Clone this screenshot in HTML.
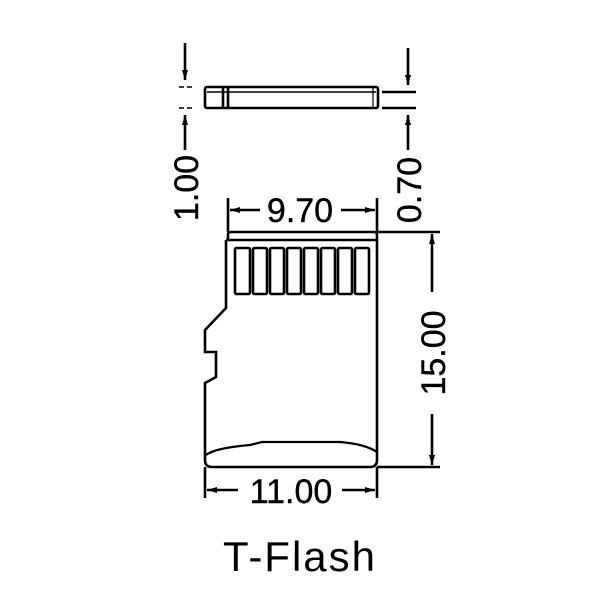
<!DOCTYPE html>
<html><head><style>
body{margin:0;background:#fff}
svg text{font-family:"Liberation Sans",sans-serif;fill:#000}
</style></head><body>
<svg width="600" height="600" viewBox="0 0 600 600" xmlns="http://www.w3.org/2000/svg">
<defs>
<marker id="a" viewBox="0 0 10 6" refX="10" refY="3" markerWidth="11" markerHeight="6" orient="auto-start-reverse" markerUnits="userSpaceOnUse"><path d="M0,0 L10,3 L0,6 z" fill="#000"/></marker>
</defs>
<g stroke="#000" fill="none" stroke-width="2.6">
<rect x="205" y="87" width="173" height="21" rx="2"/>
<line x1="207" y1="92" x2="376" y2="92" stroke-width="1.4"/>
<line x1="223" y1="88" x2="223" y2="107"/>
<line x1="228" y1="88" x2="228" y2="107"/>
<line x1="373" y1="88" x2="373" y2="107" stroke-width="1.2"/>
<line x1="179" y1="87" x2="193" y2="87" stroke-dasharray="5 3" stroke-width="1.6"/>
<line x1="179" y1="108" x2="193" y2="108" stroke-dasharray="5 3" stroke-width="1.6"/>
<line x1="185" y1="43" x2="185" y2="80" marker-end="url(#a)"/>
<line x1="185" y1="150" x2="185" y2="115" marker-end="url(#a)"/>
<line x1="382" y1="92" x2="416" y2="92"/>
<line x1="382" y1="108" x2="416" y2="108"/>
<line x1="408" y1="48" x2="408" y2="85" marker-end="url(#a)"/>
<line x1="408" y1="150" x2="408" y2="115" marker-end="url(#a)"/>
<path d="M228,240 L228,234 Q228,232 231,232 L374,232 Q377,232 377,235 L377,460 Q377,467 370,467 L212,467 Q205,467 205,460 L205,383 L216,377 L216,352 L205,352 L205,330 L226,308 L226,240"/>
<line x1="226" y1="240" x2="377" y2="240"/>
<path d="M206,455 Q215,448 250,445 L262,442 L340,442 Q365,444 377,452" stroke-width="2.2"/>
<rect x="235" y="248" width="15" height="46" rx="1.5"/>
<rect x="253" y="248" width="14" height="46" rx="1.5"/>
<rect x="270" y="248" width="14" height="46" rx="1.5"/>
<rect x="287" y="248" width="14" height="46" rx="1.5"/>
<rect x="304" y="248" width="14" height="46" rx="1.5"/>
<rect x="321" y="248" width="14" height="46" rx="1.5"/>
<rect x="338" y="248" width="14" height="46" rx="1.5"/>
<rect x="355" y="248" width="14" height="46" rx="1.5"/>
<line x1="228" y1="198" x2="228" y2="232"/>
<line x1="377" y1="198" x2="377" y2="232"/>
<line x1="230" y1="210" x2="260" y2="210" marker-start="url(#a)"/>
<line x1="341" y1="210" x2="375" y2="210" marker-end="url(#a)"/>
<line x1="377" y1="232" x2="440" y2="232"/>
<line x1="377" y1="467" x2="440" y2="467"/>
<line x1="432" y1="234" x2="432" y2="292" marker-start="url(#a)"/>
<line x1="432" y1="414" x2="432" y2="465" marker-end="url(#a)"/>
<line x1="205" y1="467" x2="205" y2="498"/>
<line x1="377" y1="467" x2="377" y2="498"/>
<line x1="207" y1="490" x2="238" y2="490" marker-start="url(#a)"/>
<line x1="342" y1="490" x2="375" y2="490" marker-end="url(#a)"/>
</g>
<text x="300" y="222" font-size="34" text-anchor="middle" stroke="#000" stroke-width="0.4">9.70</text>
<text x="291" y="503" font-size="34" text-anchor="middle" stroke="#000" stroke-width="0.4">11.00</text>
<text transform="translate(445,353) rotate(-90)" font-size="34" text-anchor="middle" stroke="#000" stroke-width="0.4">15.00</text>
<text transform="translate(198,188) rotate(-90)" font-size="34" text-anchor="middle" stroke="#000" stroke-width="0.4">1.00</text>
<text transform="translate(421,190) rotate(-90)" font-size="34" text-anchor="middle" stroke="#000" stroke-width="0.4">0.70</text>
<text x="300" y="571" font-size="42" text-anchor="middle" letter-spacing="2">T-Flash</text>
</svg>
</body></html>
